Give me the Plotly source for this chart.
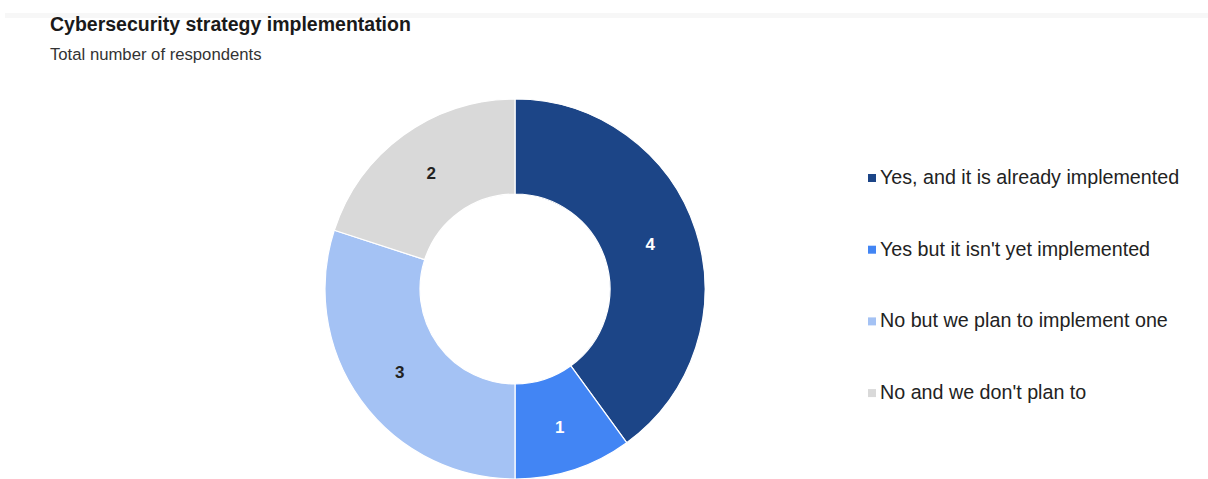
import plotly.graph_objects as go

# Survey answers and respondent counts
categories = [
    "Yes, and it is already implemented",
    "Yes but it isn't yet implemented",
    "No but we plan to implement one",
    "No and we don't plan to",
]
respondents = [4, 1, 3, 2]
slice_colors = ["#1c4587", "#4285f4", "#a4c2f4", "#d9d9d9"]
label_colors = ["#ffffff", "#ffffff", "#222222", "#222222"]

W, H = 1208, 479
FONT = "Liberation Sans, Arial, sans-serif"

# Pie geometry in pixels
cx, r = 515, 190

fig = go.Figure(
    go.Pie(
        labels=categories,
        values=respondents,
        hole=0.5,
        sort=False,
        direction="clockwise",
        rotation=0,
        marker=dict(colors=slice_colors, line=dict(color="#ffffff", width=1.2)),
        textinfo="value",
        textposition="inside",
        insidetextorientation="horizontal",
        insidetextfont=dict(family=FONT, size=17, color=label_colors, weight="bold"),
        domain=dict(x=[(cx - r) / W, (cx + r) / W], y=[0, 2 * r / H]),
        showlegend=False,
    )
)

# Legend drawn as small square swatches with text beside them
legend_top, legend_step = 177, 71.7
swatch_x, swatch_size, text_x = 868, 8, 878
shapes = [
    dict(
        type="rect", xref="paper", yref="paper",
        x0=5 / W, x1=1, y0=1 - 18 / H, y1=1 - 13 / H,
        fillcolor="#f7f7f7", line=dict(width=0), layer="below",
    )
]
annotations = [
    dict(
        text="<b>Cybersecurity strategy implementation</b>",
        x=48 / W, y=1 - 24 / H, xref="paper", yref="paper",
        xanchor="left", yanchor="middle", showarrow=False,
        font=dict(family=FONT, size=19.5, color="#1a1a1a"),
    ),
    dict(
        text="Total number of respondents",
        x=48 / W, y=1 - 55 / H, xref="paper", yref="paper",
        xanchor="left", yanchor="middle", showarrow=False,
        font=dict(family=FONT, size=16.7, color="#333333"),
    ),
]
for i, (name, color) in enumerate(zip(categories, slice_colors)):
    yc = legend_top + i * legend_step
    shapes.append(
        dict(
            type="rect", xref="paper", yref="paper",
            x0=swatch_x / W, x1=(swatch_x + swatch_size) / W,
            y0=1 - (yc + 1 + swatch_size / 2) / H, y1=1 - (yc + 1 - swatch_size / 2) / H,
            fillcolor=color, line=dict(width=0),
        )
    )
    annotations.append(
        dict(
            text=name,
            x=text_x / W, y=1 - yc / H, xref="paper", yref="paper",
            xanchor="left", yanchor="middle", showarrow=False,
            font=dict(family=FONT, size=19.7, color="#222222"),
        )
    )

fig.update_layout(
    width=W,
    height=H,
    margin=dict(l=0, r=0, t=0, b=0),
    paper_bgcolor="#ffffff",
    plot_bgcolor="#ffffff",
    font=dict(family=FONT, color="#222222"),
    annotations=annotations,
    shapes=shapes,
)

fig.write_html("out.html")
